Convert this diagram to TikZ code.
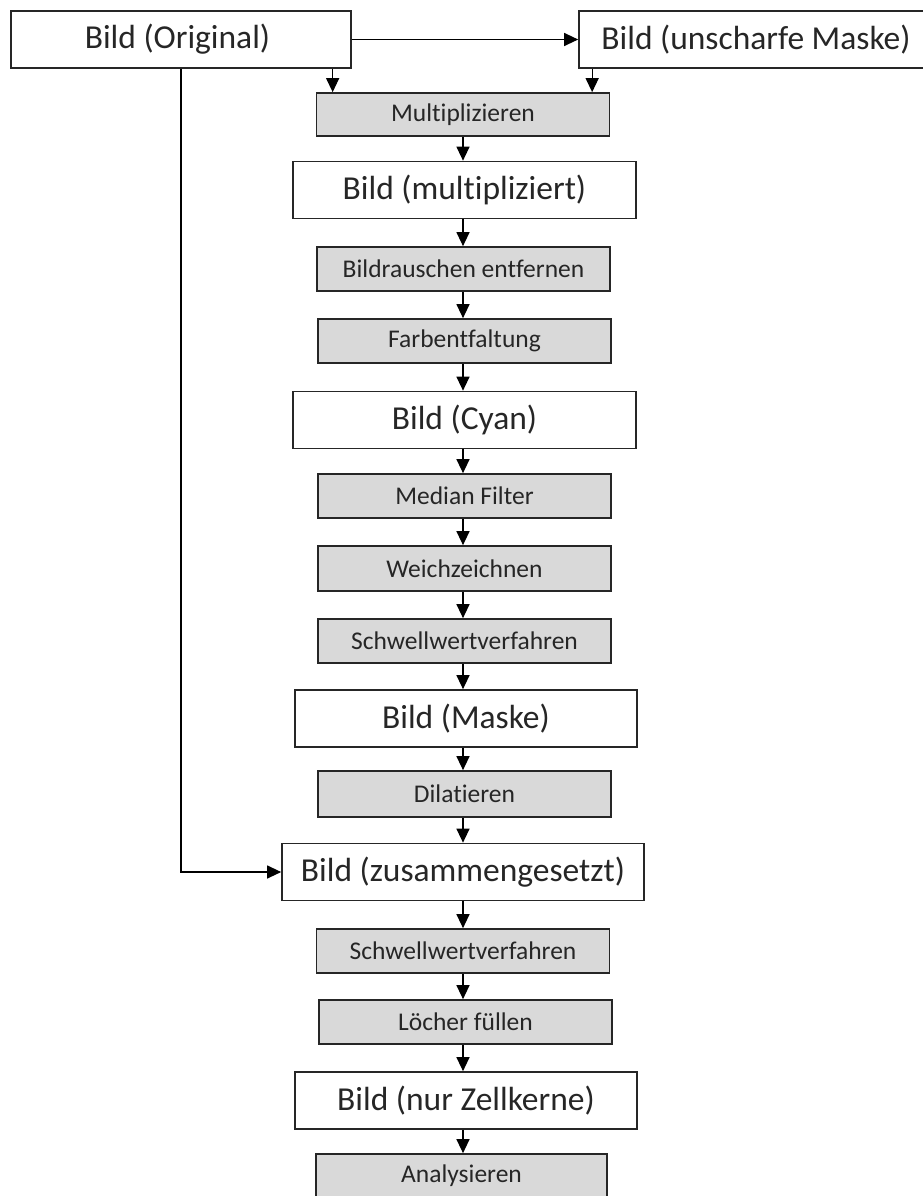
\documentclass[tikz,border=0pt]{standalone}
\usepackage{fontspec}
\setmainfont{Carlito}[Ligatures=NoCommon]
\usetikzlibrary{arrows.meta}
\definecolor{boxgray}{HTML}{D9D9D9}
\definecolor{edge}{HTML}{262626}
\tikzset{
  wbox/.style={draw=edge, line width=1.7pt, fill=white, minimum width=343pt, minimum height=57pt, inner sep=0pt, font=\fontsize{33.5}{38}\selectfont, text=edge},
  gbox/.style={draw=edge, line width=1.7pt, fill=boxgray, minimum width=293pt, minimum height=44pt, inner sep=0pt, font=\fontsize{25.5}{30}\selectfont, text=edge},
  arr/.style={draw=black, line width=1.3pt, -{Triangle[length=14pt,width=13pt]}}
}
\begin{document}
\begin{tikzpicture}[x=1pt,y=1pt]
\useasboundingbox (0,0) rectangle (923,-1196);
\fill[white] (0,0) rectangle (923,-1196);
% top row
\node[wbox, minimum width=340pt] (orig) at (181,-39.5) {\hspace*{-7pt}Bild (Original)};
\node[wbox, minimum width=346pt] (unsch) at (752,-39.5) {\hspace*{8pt}Bild (unscharfe Maske)};
% main column
\node[gbox, minimum height=43pt] (mult) at (463,-114.5) {Multiplizieren};
\node[wbox] (bmult) at (464.5,-190) {Bild (multipliziert)};
\node[gbox] (rausch) at (463.5,-269) {Bildrauschen entfernen};
\node[gbox] (farb) at (464.5,-341) {Farbentfaltung};
\node[wbox] (cyan) at (464.5,-420) {Bild (Cyan)};
\node[gbox] (median) at (464.5,-496) {Median Filter};
\node[gbox, minimum height=45pt] (weich) at (464.5,-568.5) {Weichzeichnen};
\node[gbox] (schw1) at (464.5,-641) {Schwellwertverfahren};
\node[wbox, minimum width=342pt] (maske) at (466,-718.5) {Bild (Maske)};
\node[gbox, minimum height=46pt] (dilat) at (464.5,-794) {Dilatieren};
\node[wbox, minimum width=362pt] (zus) at (463,-872) {Bild (zusammengesetzt)};
\node[gbox] (schw2) at (463,-951) {Schwellwertverfahren};
\node[gbox] (loch) at (465.5,-1022) {Löcher füllen};
\node[wbox, minimum width=342pt] (kern) at (466,-1100.5) {Bild (nur Zellkerne)};
\node[gbox, minimum width=291pt, minimum height=70pt] (anal) at (461.5,-1189) {};
\node[font=\fontsize{25.5}{30}\selectfont, text=edge] (analt) at (461.5,-1176) {Analysieren};
% connectors
\draw[arr] (orig.east) -- (unsch.west);
\draw[arr] ([xshift=17pt]mult.north west |- orig.south) -- ([xshift=17pt]mult.north west);
\draw[arr] ([xshift=14pt]unsch.south west) -- ([xshift=14pt]unsch.south west |- mult.north);
\draw[arr] (orig.south) |- (zus.west);
\draw[arr] (mult.south) -- (mult.south |- bmult.north);
\draw[arr] (mult.south |- bmult.south) -- (mult.south |- rausch.north);
\draw[arr] (mult.south |- rausch.south) -- (mult.south |- farb.north);
\draw[arr] (mult.south |- farb.south) -- (mult.south |- cyan.north);
\draw[arr] (mult.south |- cyan.south) -- (mult.south |- median.north);
\draw[arr] (mult.south |- median.south) -- (mult.south |- weich.north);
\draw[arr] (mult.south |- weich.south) -- (mult.south |- schw1.north);
\draw[arr] (mult.south |- schw1.south) -- (mult.south |- maske.north);
\draw[arr] (mult.south |- maske.south) -- (mult.south |- dilat.north);
\draw[arr] (mult.south |- dilat.south) -- (mult.south |- zus.north);
\draw[arr] (mult.south |- zus.south) -- (mult.south |- schw2.north);
\draw[arr] (mult.south |- schw2.south) -- (mult.south |- loch.north);
\draw[arr] (mult.south |- loch.south) -- (mult.south |- kern.north);
\draw[arr] (mult.south |- kern.south) -- (mult.south |- anal.north);
\end{tikzpicture}
\end{document}
